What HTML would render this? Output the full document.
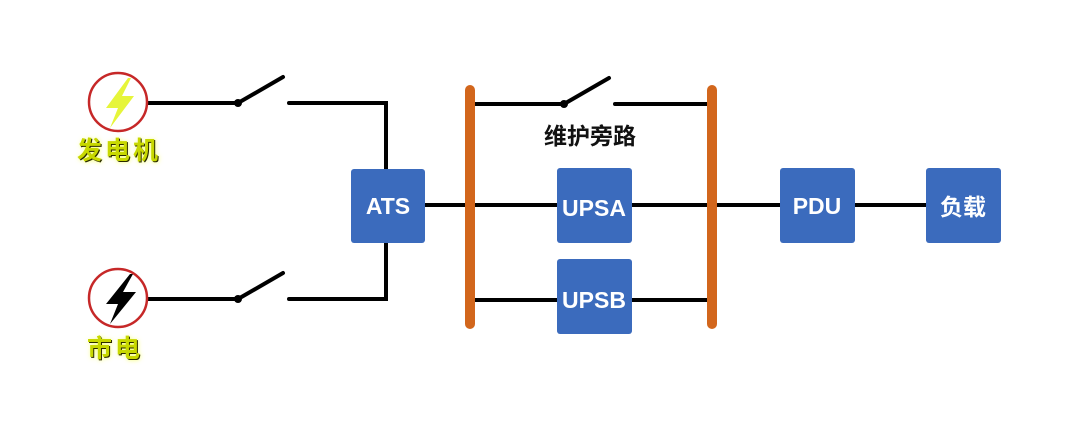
<!DOCTYPE html>
<html><head><meta charset="utf-8"><style>
body{margin:0;background:#fff;}
svg text{font-family:"Liberation Sans","Noto Sans CJK SC",sans-serif;font-weight:bold;}
</style></head><body>
<svg width="1080" height="423" viewBox="0 0 1080 423" xmlns="http://www.w3.org/2000/svg">
<rect width="1080" height="423" fill="#fff"/>
<defs><filter id="glow" x="-20%" y="-40%" width="140%" height="180%"><feGaussianBlur stdDeviation="2.5"/></filter></defs>
<g stroke="#000" stroke-width="4" fill="none" stroke-linecap="round">
<line x1="148" y1="103" x2="238" y2="103"/>
<line x1="238" y1="103" x2="283" y2="77"/>
<polyline points="289,103 386,103 386,170"/>
<line x1="148" y1="299" x2="238" y2="299"/>
<line x1="238" y1="299" x2="283" y2="273"/>
<polyline points="289,299 386,299 386,242"/>
<line x1="425" y1="205" x2="780" y2="205"/>
<line x1="855" y1="205" x2="926" y2="205"/>
<line x1="475" y1="104" x2="564" y2="104"/>
<line x1="564" y1="104" x2="609" y2="78"/>
<line x1="615" y1="104" x2="712" y2="104"/>
<line x1="475" y1="300" x2="712" y2="300"/>
</g>
<circle cx="238" cy="103" r="4"/><circle cx="238" cy="299" r="4"/><circle cx="564" cy="104" r="4"/>
<circle cx="118" cy="102" r="29" fill="#fff" stroke="#c62828" stroke-width="2.5"/>
<polygon points="128,78 106,108 118,108 110,128 134,96 122,96 131,78" fill="#e6f53a"/>
<circle cx="118" cy="298" r="29" fill="#fff" stroke="#c62828" stroke-width="2.5"/>
<polygon points="130,274 106,304 118,304 110,324 136,292 123,292 133,274" fill="#000"/>
<g font-size="25" fill="#f5ff60" filter="url(#glow)" letter-spacing="3"><text x="78" y="160">发电机</text><text x="88" y="358">市电</text></g>
<g font-size="25" fill="#2a2a00" letter-spacing="3"><text x="78" y="160">发电机</text><text x="88" y="358">市电</text></g>
<g font-size="25" fill="#c8d800" letter-spacing="3"><text x="77" y="159">发电机</text><text x="87" y="357">市电</text></g>
<rect x="465" y="85" width="10" height="244" rx="5" fill="#d2661c"/>
<rect x="707" y="85" width="10" height="244" rx="5" fill="#d2661c"/>
<g fill="#3b6bbd">
<rect x="351" y="169" width="74" height="74" rx="3"/>
<rect x="557" y="168" width="75" height="75" rx="3"/>
<rect x="557" y="259" width="75" height="75" rx="3"/>
<rect x="780" y="168" width="75" height="75" rx="3"/>
<rect x="926" y="168" width="75" height="75" rx="3"/>
</g>
<g fill="#fff" font-size="23" text-anchor="middle">
<text x="388" y="214">ATS</text>
<text x="594" y="216">UPSA</text>
<text x="594" y="308">UPSB</text>
<text x="817" y="214">PDU</text>
<text x="963" y="215">负载</text>
</g>
<text x="590" y="144" font-size="23" text-anchor="middle" fill="#111">维护旁路</text>
</svg>
</body></html>
